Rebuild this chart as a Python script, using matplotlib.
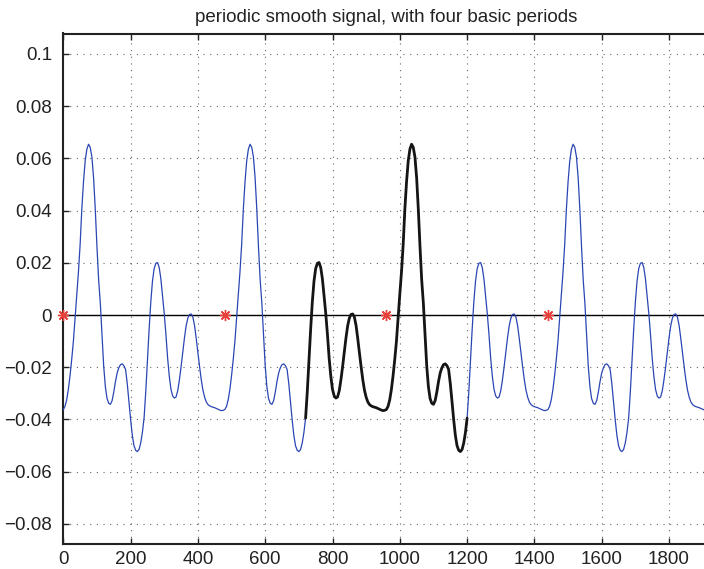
import numpy as np
import matplotlib
matplotlib.use("Agg")
import matplotlib.pyplot as plt

# ---- data ----
period = 480
step = 5
# one basic period, sampled every 5 units (x = 0, 5, ..., 475)
period_values = [
    -0.0362, -0.0350, -0.0325, -0.0285, -0.0232, -0.0170, -0.0100, -0.0010,
    0.0080, 0.0165, 0.0270, 0.0405, 0.0510, 0.0590, 0.0635, 0.0654,
    0.0642, 0.0605, 0.0525, 0.0405, 0.0262, 0.0135, 0.0045, -0.0075,
    -0.0195, -0.0275, -0.0320, -0.0338, -0.0342, -0.0328, -0.0295, -0.0255,
    -0.0222, -0.0202, -0.0190, -0.0187, -0.0194, -0.0208, -0.0262, -0.0330,
    -0.0400, -0.0460, -0.0500, -0.0518, -0.0523, -0.0515, -0.0490, -0.0450,
    -0.0395, -0.0295, -0.0175, -0.0055, 0.0050, 0.0130, 0.0178, 0.0198,
    0.0201, 0.0182, 0.0138, 0.0072, 0.0005, -0.0075, -0.0165, -0.0235,
    -0.0285, -0.0310, -0.0318, -0.0314, -0.0290, -0.0248, -0.0198, -0.0142,
    -0.0088, -0.0042, -0.0012, 0.0002, 0.0004, -0.0008, -0.0040, -0.0090,
    -0.0145, -0.0198, -0.0248, -0.0288, -0.0315, -0.0333, -0.0343, -0.0348,
    -0.0351, -0.0353, -0.0355, -0.0358, -0.0361, -0.0364, -0.0366, -0.0365,
]
n_periods = 4
highlight_range = (720, 1200)          # the one period drawn in black
marker_x = [0, 480, 960, 1440]         # red asterisks on the zero line
marker_y = [0, 0, 0, 0]
xticks = [0, 200, 400, 600, 800, 1000, 1200, 1400, 1600, 1800]
yticks = [-0.08, -0.06, -0.04, -0.02, 0, 0.02, 0.04, 0.06, 0.08, 0.1]
ytick_labels = ["\u22120.08", "\u22120.06", "\u22120.04", "\u22120.02", "0",
                "0.02", "0.04", "0.06", "0.08", "0.1"]
title = "periodic smooth signal, with four basic periods"

# ---- build the full series by repeating the period ----
y = np.tile(np.array(period_values), n_periods)
x = np.arange(len(y)) * step
mask = (x >= highlight_range[0]) & (x <= highlight_range[1])

plt.rcParams['font.family'] = ['Liberation Sans', 'DejaVu Sans']

fig = plt.figure(figsize=(7.04, 5.69), dpi=100)
W, H = 704, 569
left, right, top, bottom = 63.3, 709.4, 33.5, 544.3
ax = fig.add_axes([left / W, 1 - bottom / H, (right - left) / W, (bottom - top) / H])

ax.axhline(0, color='black', lw=1.0, zorder=2)
ax.plot(x, y, color='#2a46b4', lw=0.9, zorder=3)
ax.plot(x[mask], y[mask], color='#151515', lw=2.0, zorder=4,
        solid_capstyle='round')
ax.plot(marker_x, marker_y, linestyle='none', marker=(8, 2, 0), ms=8,
        mec='#e8403a', mew=1.0, zorder=5, clip_on=False)

ax.set_xlim(0, 1920)
ax.set_ylim(-0.0878, 0.1078)
ax.set_xticks(xticks)
ax.set_xticklabels([str(t) for t in xticks])
ax.set_yticks(yticks)
ax.set_yticklabels(ytick_labels)

ax.grid(True, color='0.4', linestyle=(0, (1, 5)), lw=0.8)
ax.set_axisbelow(True)
ax.tick_params(direction='in', length=4, width=1.0, top=True, right=True,
               labelsize=13.5, colors='#222222')
ax.tick_params(axis='y', pad=8)
ax.tick_params(axis='x', pad=5)
for s in ax.spines.values():
    s.set_linewidth(1.5)
    s.set_color('#222222')

ax.set_title(title, fontsize=13.5, color='#222222', pad=8)

fig.savefig("out.png", dpi=100)
